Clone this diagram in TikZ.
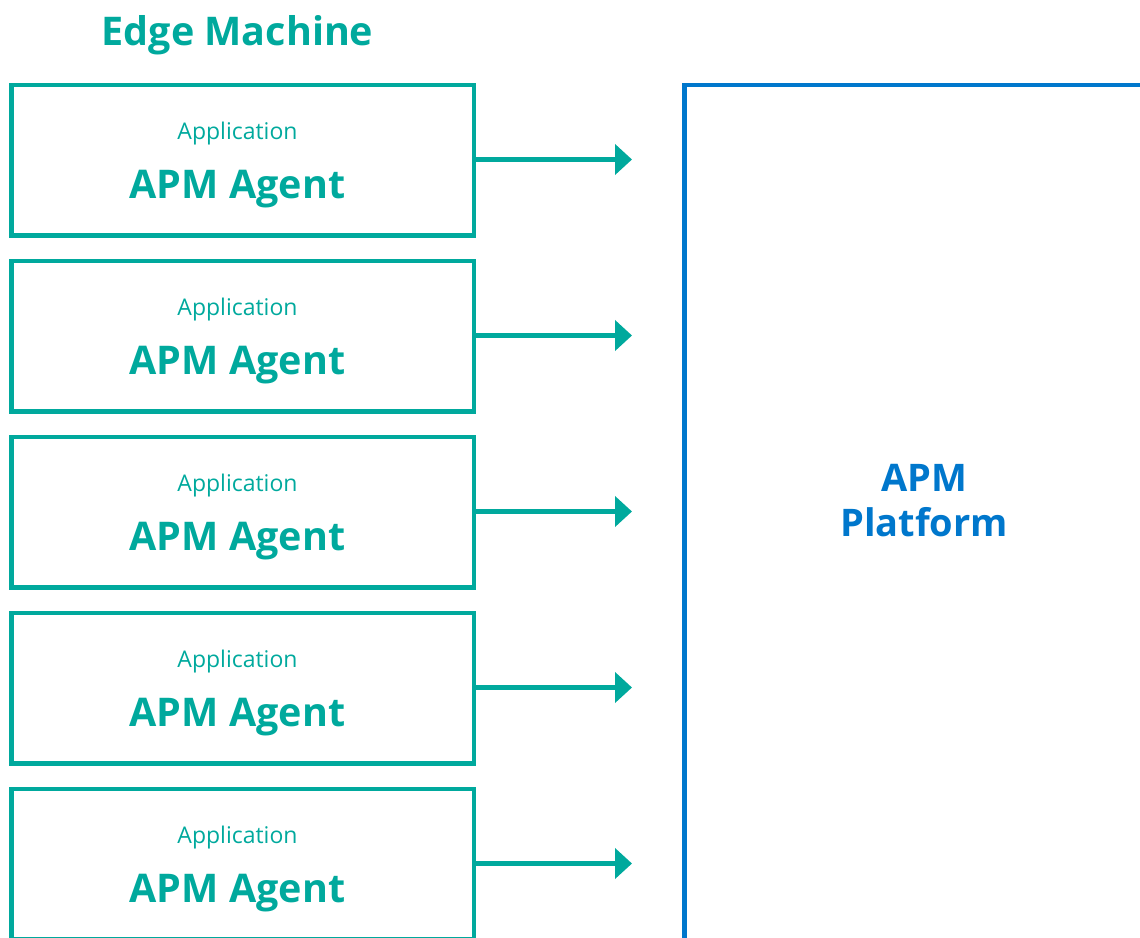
\documentclass[tikz,border=0pt]{standalone}
\usepackage{fontspec}
\setmainfont{Open Sans}
\usetikzlibrary{arrows.meta}
\definecolor{apmteal}{HTML}{00A99D}
\definecolor{apmblue}{HTML}{0077CC}
\begin{document}
\begin{tikzpicture}[x=1pt,y=-1pt,
  agentbox/.style={draw=apmteal,line width=4.5pt,minimum width=462.3pt,minimum height=150.5pt,anchor=north west,inner sep=0pt,outer sep=0pt},
  apptext/.style={text=apmteal,font=\fontsize{23}{27}\selectfont},
  agenttext/.style={text=apmteal,font=\fontsize{39.5}{46}\selectfont\bfseries},
  flow/.style={draw=apmteal,line width=5pt,-{Triangle[length=17pt,width=30pt]}}
]
\useasboundingbox (0,0) rectangle (1140,937);
\clip (0,0) rectangle (1140,937);
\node[text=apmteal,font=\fontsize{39.5}{46}\selectfont\bfseries] (title) at (237.5,35) {Edge Machine};
\foreach \i in {1,...,5}{
  \pgfmathsetmacro{\top}{85+176*(\i-1)}
  \node[agentbox] (box\i) at (11.7,\top) {};
  \node[apptext] (app\i) at (237.5,\top+49) {Application};
  \node[agenttext] (agent\i) at (237.5,\top+104) {APM Agent};
  \coordinate (tip\i) at (632,\top+74.5);
  \draw[flow] (box\i.east |- tip\i) -- (tip\i);
}
\draw[draw=apmblue,line width=4.5pt] (684.5,85) coordinate (pnw) rectangle (1170,1000) coordinate (pse);
\node[text=apmblue,font=\fontsize{38}{45}\selectfont\bfseries,align=center] (platform) at (924,501) {APM\\Platform};
\end{tikzpicture}
\end{document}
